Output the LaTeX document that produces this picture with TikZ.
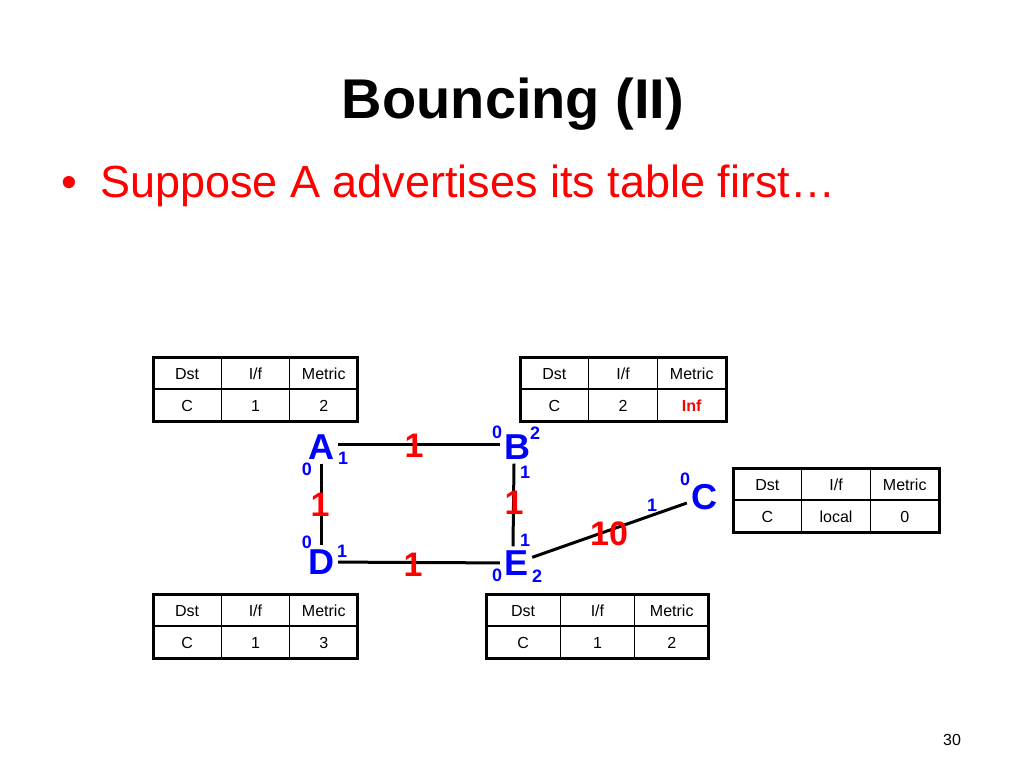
\documentclass[tikz,border=0pt]{standalone}
\usepackage{fontspec}
\setmainfont{Liberation Sans}
\tikzset{
    router/.style={text=blue, font=\bfseries\fontsize{36}{36}\selectfont, inner sep=4pt},
    port/.style={text=blue, font=\bfseries\fontsize{18}{18}\selectfont, inner sep=0pt},
    cost/.style={text=red, font=\bfseries\fontsize{34}{34}\selectfont, inner sep=0pt},
    link/.style={line width=3pt},
    cell/.style={font=\fontsize{16}{16}\selectfont, inner sep=0pt, anchor=base}
}
% routing table: name, x, y, column width, dst, i/f, metric
\newcommand{\routetable}[7]{%
    \begin{scope}[shift={(#2,#3)}]
        \draw[line width=1.2pt] (0,32) -- (3*#4,32) (#4,0) -- (#4,64) (2*#4,0) -- (2*#4,64);
        \draw[line width=3pt] (0,0) rectangle (3*#4,64);
        \node[cell] (#1-h1) at (0.5*#4,22) {Dst};
        \node[cell] (#1-h2) at (1.5*#4,22) {I/f};
        \node[cell] (#1-h3) at (2.5*#4,22) {Metric};
        \node[cell] (#1-dst) at (0.5*#4,54) {#5};
        \node[cell] (#1-if) at (1.5*#4,54) {#6};
        \node[cell] (#1-metric) at (2.5*#4,54) {#7};
    \end{scope}%
}

\begin{document}
\begin{tikzpicture}[x=1pt, y=-1pt]
    \useasboundingbox[fill=white] (0,0) rectangle (1024,768);
    \node[anchor=base, font=\bfseries\fontsize{56}{56}\selectfont] (title) at (513,118) {Bouncing (II)};
    \node[anchor=base west, text=red, font=\fontsize{45}{45}\selectfont] (bullet) at (58,197) {\textbullet};
    \node[anchor=base west, text=red, font=\fontsize{45}{45}\selectfont, inner sep=0pt] (point) at (100,197) {Suppose A advertises its table first\ldots};
    \node[anchor=base, font=\fontsize{16}{16}\selectfont] (page) at (952,745) {30};

    % tables
    \routetable{tA}{153}{357}{68.3}{C}{1}{2}
    \routetable{tB}{520}{357}{68.7}{C}{2}{\textcolor{red}{\bfseries Inf}}
    \routetable{tC}{733}{468}{68.7}{C}{local}{0}
    \routetable{tD}{153}{594}{68.3}{C}{1}{3}
    \routetable{tE}{486}{594}{74.3}{C}{1}{2}

    % routers
    \node[router] (A) at (321,447) {A};
    \node[router] (B) at (517,447) {B};
    \node[router] (C) at (704,497) {C};
    \node[router] (D) at (321,562) {D};
    \node[router] (E) at (516,563) {E};

    % links
    \draw[link] ([yshift=3pt]A.east) -- ([yshift=3pt]B.west);
    \draw[link] (A) -- (D);
    \draw[link] ([xshift=-3pt]B.south) -- ([xshift=-3pt]E.north);
    \draw[link] (D) -- (E);
    \draw[link] (E) -- (C);

    % ports
    \node[port] (A-1) at (343,458) {1};
    \node[port] (A-0) at (307,469) {0};
    \node[port] (B-0) at (497,432) {0};
    \node[port] (B-2) at (535,433) {2};
    \node[port] (B-1) at (525,472) {1};
    \node[port] (C-0) at (685,479) {0};
    \node[port] (C-1) at (652,505) {1};
    \node[port] (D-0) at (307,542) {0};
    \node[port] (D-1) at (342,551) {1};
    \node[port] (E-1) at (525,540) {1};
    \node[port] (E-0) at (497,575) {0};
    \node[port] (E-2) at (537,576) {2};

    % costs
    \node[cost] (AB) at (414,446) {1};
    \node[cost] (AD) at (320,505) {1};
    \node[cost] (BE) at (514,503) {1};
    \node[cost] (DE) at (413,565) {1};
    \node[cost] (EC) at (609,534) {10};
\end{tikzpicture}
\end{document}
